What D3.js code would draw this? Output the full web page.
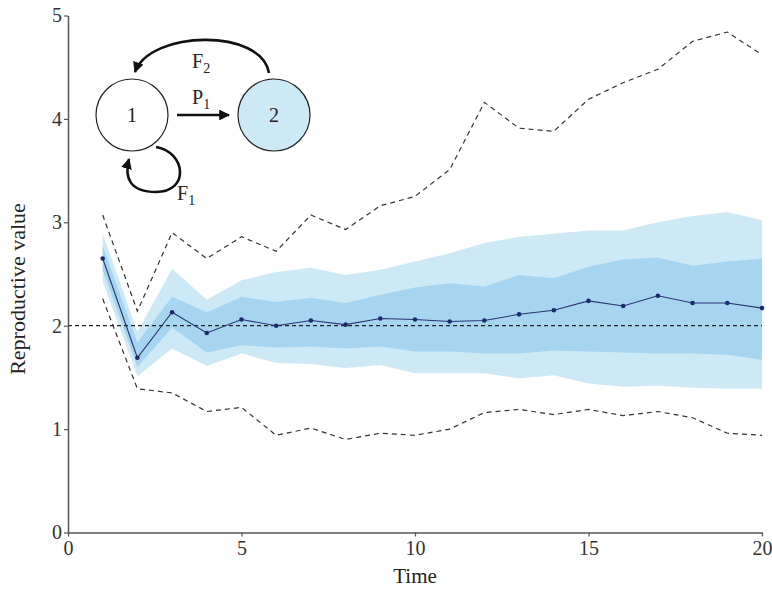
<!DOCTYPE html>
<html>
<head>
<meta charset="utf-8">
<script src="https://cdn.jsdelivr.net/npm/d3@7"></script>
<style>
  body { margin: 0; background: #fff; }
  text { font-family: "Liberation Serif", "DejaVu Serif", serif; }
</style>
</head>
<body>
<div id="chart"></div>
<script>
// data
var time = [1,2,3,4,5,6,7,8,9,10,11,12,13,14,15,16,17,18,19,20];
var meanVal = [2.65,1.69,2.13,1.93,2.06,2.00,2.05,2.01,2.07,2.06,2.04,2.05,2.11,2.15,2.24,2.19,2.29,2.22,2.22,2.17];
var inner_hi = [2.77,1.84,2.28,2.13,2.28,2.23,2.27,2.22,2.30,2.37,2.41,2.38,2.49,2.46,2.57,2.64,2.66,2.58,2.62,2.65];
var inner_lo = [2.54,1.60,1.98,1.74,1.81,1.79,1.80,1.78,1.80,1.75,1.75,1.73,1.73,1.76,1.75,1.74,1.73,1.73,1.72,1.67];
var outer_hi = [2.89,1.94,2.55,2.25,2.44,2.52,2.56,2.49,2.54,2.62,2.70,2.80,2.86,2.89,2.92,2.92,3.00,3.06,3.10,3.02];
var outer_lo = [2.43,1.51,1.78,1.61,1.73,1.64,1.63,1.59,1.62,1.54,1.54,1.54,1.49,1.52,1.44,1.41,1.42,1.40,1.39,1.39];
var maxVal = [3.07,2.14,2.90,2.65,2.86,2.72,3.07,2.93,3.16,3.25,3.51,4.16,3.91,3.88,4.19,4.35,4.48,4.75,4.84,4.62];
var minVal = [2.26,1.39,1.35,1.17,1.21,0.94,1.01,0.90,0.96,0.94,1.00,1.16,1.19,1.14,1.19,1.13,1.17,1.11,0.96,0.94];
var xTicks = [0,5,10,15,20];
var yTicks = [0,1,2,3,4,5];
var refLevel = 2;

var W = 772, H = 590;
var svg = d3.select("#chart").append("svg")
    .attr("width", W)
    .attr("height", H);

var x = d3.scaleLinear().domain([0, 20]).range([68, 762]);
var y = d3.scaleLinear().domain([0, 5]).range([532.5, 15.5]);

var rows = time.map(function(t, i) {
  return {t: t, m: meanVal[i], ih: inner_hi[i], il: inner_lo[i],
          oh: outer_hi[i], ol: outer_lo[i], mx: maxVal[i], mn: minVal[i]};
});

// bands
svg.append("path")
  .datum(rows)
  .attr("fill", "#cde9f6")
  .attr("d", d3.area().x(function(d) { return x(d.t); })
    .y0(function(d) { return y(d.ol); })
    .y1(function(d) { return y(d.oh); }));

svg.append("path")
  .datum(rows)
  .attr("fill", "#a7d5f0")
  .attr("d", d3.area().x(function(d) { return x(d.t); })
    .y0(function(d) { return y(d.il); })
    .y1(function(d) { return y(d.ih); }));

// reference line at 2
svg.append("line")
  .attr("x1", x(0)).attr("x2", x(20))
  .attr("y1", y(refLevel)).attr("y2", y(refLevel))
  .attr("stroke", "#222")
  .attr("stroke-width", 1.2)
  .attr("stroke-dasharray", "4,3");

// min / max dashed lines
["mx", "mn"].forEach(function(k) {
  svg.append("path")
    .datum(rows)
    .attr("fill", "none")
    .attr("stroke", "#333")
    .attr("stroke-width", 1.2)
    .attr("stroke-dasharray", "5,4")
    .attr("d", d3.line().x(function(d) { return x(d.t); })
      .y(function(d) { return y(d[k]); }));
});

// mean line + dots
svg.append("path")
  .datum(rows)
  .attr("fill", "none")
  .attr("stroke", "#2a3570")
  .attr("stroke-width", 1.1)
  .attr("d", d3.line().x(function(d) { return x(d.t); })
    .y(function(d) { return y(d.m); }));

svg.selectAll("circle.pt")
  .data(rows)
  .enter().append("circle")
  .attr("class", "pt")
  .attr("cx", function(d) { return x(d.t); })
  .attr("cy", function(d) { return y(d.m); })
  .attr("r", 2.3)
  .attr("fill", "#1c2a6e");

// axes
var xAxis = svg.append("g")
  .attr("transform", "translate(0," + y(0) + ")")
  .call(d3.axisBottom(x).tickValues(xTicks).tickFormat(d3.format("d")).tickSize(4).tickSizeOuter(0));
var yAxis = svg.append("g")
  .attr("transform", "translate(" + x(0) + ",0)")
  .call(d3.axisLeft(y).tickValues(yTicks).tickFormat(d3.format("d")).tickSize(4).tickSizeOuter(0));

[xAxis, yAxis].forEach(function(g) {
  g.select(".domain").attr("stroke", "#555").attr("stroke-width", 1.5);
  g.selectAll(".tick line").attr("stroke", "#555").attr("stroke-width", 1.2);
  g.selectAll(".tick text")
    .attr("fill", "#333")
    .style("font-family", "'Liberation Serif', serif")
    .style("font-size", "20px");
});
xAxis.selectAll(".tick text").attr("dy", "0.8em").attr("y", 6);
yAxis.selectAll(".tick text").attr("x", -6);

svg.append("text")
  .attr("x", (x(0) + x(20)) / 2)
  .attr("y", 583)
  .attr("text-anchor", "middle")
  .attr("fill", "#222")
  .style("font-size", "21px")
  .text("Time");

svg.append("text")
  .attr("transform", "translate(25,289) rotate(-90)")
  .attr("text-anchor", "middle")
  .attr("fill", "#222")
  .style("font-size", "22px")
  .text("Reproductive value");

// inset life-cycle diagram
var defs = svg.append("defs");
defs.append("marker")
  .attr("id", "ah")
  .attr("viewBox", "0 0 10 10")
  .attr("refX", 9).attr("refY", 5)
  .attr("markerWidth", 4.2).attr("markerHeight", 4.2)
  .attr("orient", "auto")
  .append("path")
  .attr("d", "M0,0 L10,5 L0,10 z")
  .attr("fill", "#111");

var inset = svg.append("g");
inset.append("circle")
  .attr("cx", 132).attr("cy", 115).attr("r", 36)
  .attr("fill", "#fff").attr("stroke", "#222").attr("stroke-width", 1.2);
inset.append("circle")
  .attr("cx", 274).attr("cy", 115).attr("r", 36)
  .attr("fill", "#cde9f5").attr("stroke", "#222").attr("stroke-width", 1.2);

inset.append("text").attr("x", 132).attr("y", 122).attr("text-anchor", "middle")
  .style("font-size", "20px").attr("fill", "#222").text("1");
inset.append("text").attr("x", 274).attr("y", 122).attr("text-anchor", "middle")
  .style("font-size", "20px").attr("fill", "#222").text("2");

var arrowStyle = function(p) {
  return p.attr("fill", "none").attr("stroke", "#111")
    .attr("stroke-width", 2.6).attr("marker-end", "url(#ah)");
};

// P1
inset.append("path").attr("d", "M177,115 L229,115").call(arrowStyle);
// F2
inset.append("path").attr("d", "M269,73 C262,28 150,30 135,72").call(arrowStyle);
// F1
inset.append("path").attr("d", "M156,147 C186,152 190,192 156,192 C130,192 124,178 129,159").call(arrowStyle);

var lbl = function(tx, ty, main, sub) {
  var t = inset.append("text").attr("x", tx).attr("y", ty)
    .attr("fill", "#222").style("font-size", "20px");
  t.append("tspan").text(main);
  t.append("tspan").attr("dy", 5).style("font-size", "14px").text(sub);
};
lbl(192, 68, "F", "2");
lbl(192, 104, "P", "1");
lbl(177, 200, "F", "1");
</script>
</body>
</html>
